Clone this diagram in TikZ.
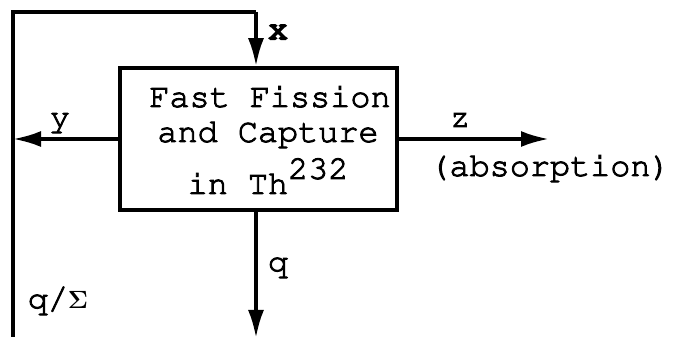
\documentclass[tikz,border=0pt]{standalone}
\usepackage[T1]{fontenc}
\usetikzlibrary{arrows.meta}
\newcommand{\tw}{\fontfamily{pcr}\fontsize{33.5}{33.5}\selectfont}
\newcommand{\heavy}[1]{\special{pdf:literal direct 2 Tr 0.9 w}#1\special{pdf:literal direct 0 Tr}}
\begin{document}
\begin{tikzpicture}[x=1pt,y=-1pt, line width=3.5pt,
 flow/.style={-{Latex[length=28pt,width=16pt]}},
 lbl/.style={font=\tw, inner sep=0pt, anchor=base},
]
\useasboundingbox[fill=white] (0,0) rectangle (673,339);
\node[draw, line width=3.5pt, minimum width=277pt, minimum height=142pt, inner sep=0pt] (box) at (258.5,139) {};
\node[lbl] (t1) at (270,107) {\heavy{Fast Fission}};
\node[lbl] (t2) at (268,142) {\heavy{and Capture}};
\node[lbl] (t3) at (268,194) {\heavy{in Th\smash{\raisebox{0.45em}{232}}}};
\coordinate (lt) at (13,12);
\coordinate (lb) at (13,337);
\coordinate (xt) at (256,12);
\coordinate (zend) at (549,139);
\coordinate (qend) at (256,338);
\draw (lb) -- (lt) -- (xt);
\draw[flow] (xt) -- (xt |- box.north);
\draw[flow] (box.west) -- (box.west -| lt);
\draw[flow] (box.east) -- (zend);
\draw[flow] (box.south -| xt) -- (qend);
\node[lbl] (lx) at (278,39) {\special{pdf:literal direct 2 Tr 2 w}x\special{pdf:literal direct 0 Tr}};
\node[lbl] (ly) at (60,127) {\heavy{y}};
\node[lbl] (lz) at (460,127) {\heavy{z}};
\node[lbl] (lab) at (550,176) {\heavy{(absorption)}};
\node[lbl] (lq) at (278,272) {\heavy{q}};
\node[lbl] (lqs) at (58,309) {\heavy{q/}$\mathbf{\Sigma}$};
\end{tikzpicture}
\end{document}
